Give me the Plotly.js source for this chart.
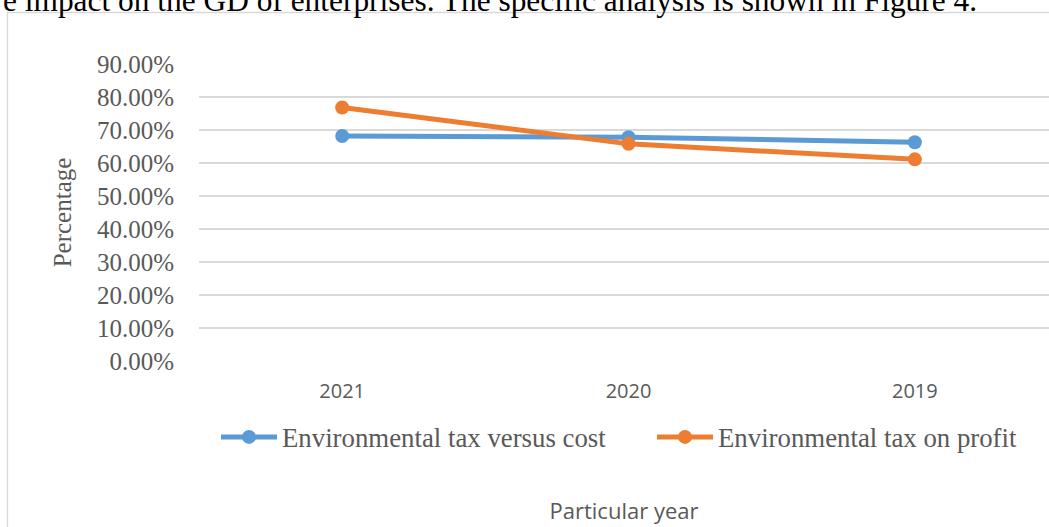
<!DOCTYPE html>
<html>
<head>
<meta charset="utf-8">
<script src="https://cdn.plot.ly/plotly-3.0.1.min.js"></script>
<style>
  html, body { margin: 0; padding: 0; background: #ffffff; }
  #chart { width: 1049px; height: 527px; }
</style>
</head>
<body>
<div id="chart"></div>
<script>
// Years shown along the category axis
const years = ['2021', '2020', '2019'];

// Share of environmental tax relative to cost and to profit
const taxVersusCost = [0.682, 0.678, 0.663];
const taxOnProfit = [0.768, 0.658, 0.611];

const seriesNames = ['Environmental tax versus cost', 'Environmental tax on profit'];

const yTicks = [0, 0.1, 0.2, 0.3, 0.4, 0.5, 0.6, 0.7, 0.8, 0.9];

const leadText = 'e impact on the GD of enterprises. The specific analysis is shown in Figure 4.';

// Plot area geometry in pixels, used to place items outside it in paper units
const W = 1049, H = 527;
const M = { l: 199, r: 0, t: 64, b: 166 };
const plotW = W - M.l - M.r;
const plotH = H - M.t - M.b;
const px = x => (x - M.l) / plotW;
const py = y => (H - M.b - y) / plotH;

const grey = '#595959';
const serif = 'Liberation Serif, Times New Roman, serif';
const sans = 'Open Sans, Liberation Sans, sans-serif';

const traces = [
  {
    x: years, y: taxVersusCost, name: seriesNames[0],
    type: 'scatter', mode: 'lines+markers',
    line: { color: '#5B9BD5', width: 5 },
    marker: { color: '#5B9BD5', size: 14 },
    legend: 'legend',
    hoverinfo: 'skip'
  },
  {
    x: years, y: taxOnProfit, name: seriesNames[1],
    type: 'scatter', mode: 'lines+markers',
    line: { color: '#ED7D31', width: 5 },
    marker: { color: '#ED7D31', size: 14 },
    legend: 'legend2',
    hoverinfo: 'skip'
  }
];

// One legend box per series, side by side below the axis
const legendBase = {
  orientation: 'h',
  xanchor: 'left',
  y: py(437), yanchor: 'middle',
  font: { family: serif, size: 26.8, color: grey },
  itemwidth: 56,
  bgcolor: 'rgba(0,0,0,0)'
};

const layout = {
  width: W, height: H,
  margin: M,
  paper_bgcolor: '#ffffff',
  plot_bgcolor: '#ffffff',
  showlegend: true,
  xaxis: {
    type: 'category',
    categoryorder: 'array', categoryarray: years,
    range: [-0.5, 2.4686],
    showgrid: false, zeroline: false, showline: false,
    ticks: '',
    ticklabelstandoff: 16,
    tickfont: { family: sans, size: 20, color: grey },
    title: { text: 'Particular year', font: { family: sans, size: 22, color: grey }, standoff: 100 }
  },
  yaxis: {
    range: [0, 0.9],
    tickvals: yTicks,
    tickformat: '.2%',
    showgrid: true, gridcolor: '#D9D9D9', gridwidth: 1.3,
    zeroline: false, showline: false,
    ticks: '',
    ticklabelstandoff: 24,
    tickfont: { family: serif, size: 25, color: grey },
    title: { text: 'Percentage', font: { family: serif, size: 25, color: grey }, standoff: 18 }
  },
  legend: Object.assign({}, legendBase, { x: px(216) }),
  legend2: Object.assign({}, legendBase, { x: px(652) }),
  shapes: [
    {
      type: 'rect', xref: 'paper', yref: 'paper', layer: 'below',
      x0: px(7.5), x1: px(1060), y0: py(560), y1: py(12.5),
      line: { color: '#D9D9D9', width: 1.3 }, fillcolor: 'rgba(0,0,0,0)'
    }
  ],
  annotations: [
    {
      xref: 'paper', yref: 'paper',
      x: px(979), xanchor: 'right',
      y: py(20), yanchor: 'bottom',
      text: leadText, showarrow: false,
      font: { family: serif, size: 31.4, color: '#000000' }
    }
  ]
};

Plotly.newPlot('chart', traces, layout, { displayModeBar: false, staticPlot: true });
</script>
</body>
</html>
